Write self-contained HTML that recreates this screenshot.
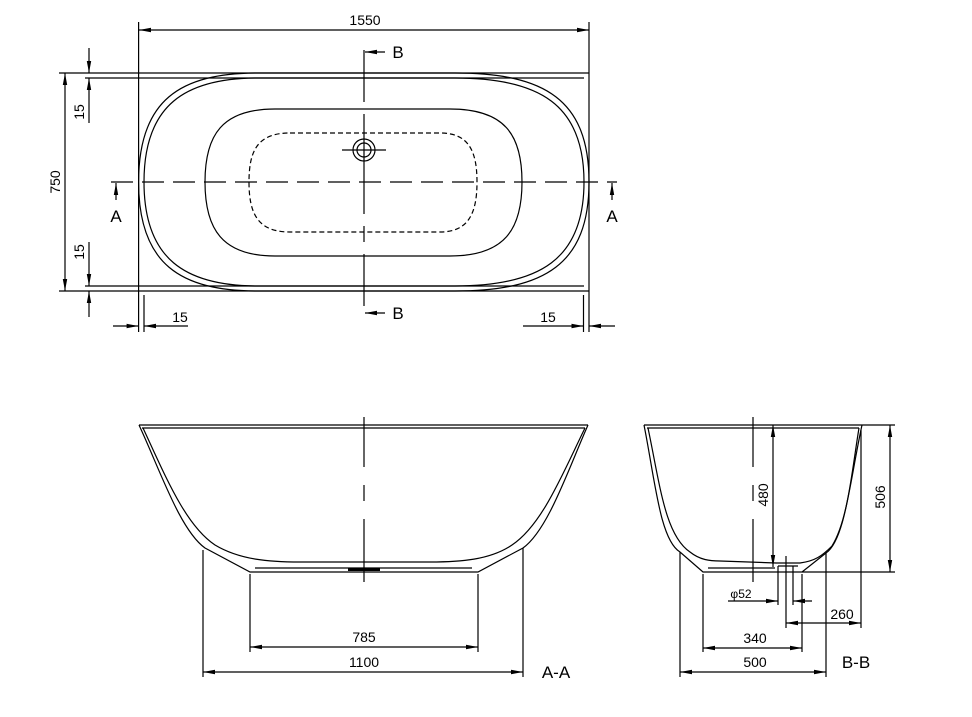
<!DOCTYPE html>
<html><head><meta charset="utf-8"><style>html,body{margin:0;padding:0;background:#fff}svg{display:block}text{font-family:"Liberation Sans",sans-serif;fill:#000}</style></head>
<body>
<svg width="972" height="717" viewBox="0 0 972 717" xmlns="http://www.w3.org/2000/svg">
<defs>
<marker id="ar" viewBox="0 0 12 6" refX="12" refY="3" markerWidth="12" markerHeight="6" orient="auto-start-reverse" markerUnits="userSpaceOnUse"><path d="M0,0.8 L12,3 L0,5.2z" fill="#000"/></marker>
</defs>
<g stroke="#000" stroke-width="1.2" fill="none">
<!-- TOP VIEW -->
<line x1="138.6" y1="22" x2="138.6" y2="332"/><line x1="144" y1="295" x2="144" y2="332"/>
<line x1="583.5" y1="295" x2="583.5" y2="332"/><line x1="589" y1="22" x2="589" y2="332"/>
<line x1="59" y1="73" x2="589" y2="73"/><line x1="85" y1="78" x2="584" y2="78"/>
<line x1="85" y1="286" x2="584" y2="286"/><line x1="59" y1="291" x2="589" y2="291"/>
<line x1="139" y1="30" x2="589" y2="30" marker-start="url(#ar)" marker-end="url(#ar)"/>
<path d="M258,73 L455,73 C545,73 589,100 589,182 C589,264 545,291 455,291 L258,291 C180,291 138.6,264 138.6,182 C138.6,100 180,73 258,73Z"/>
<path d="M258,78 L455,78 C540,78 584,105 584,182 C584,259 540,286 455,286 L258,286 C185,286 144,259 144,182 C144,105 185,78 258,78Z"/>
<path d="M275,109 L450,109 C505,109 522,135 522,182 C522,229 505,256 450,256 L275,256 C222,256 205,229 205,182 C205,135 222,109 275,109Z"/>
<path d="M290,133 L440,133 C468,133 477,150 477,182 C477,214 468,232 440,232 L290,232 C258,232 249,214 249,182 C249,150 258,133 290,133Z" stroke-dasharray="5,3"/>
<circle cx="364" cy="150" r="11"/><circle cx="364" cy="150" r="7"/>
<line x1="342" y1="150" x2="386" y2="150"/>
<line x1="364" y1="50" x2="364" y2="316" stroke-dasharray="52,12,100,12,16,12,52"/>
<line x1="111" y1="182" x2="617" y2="182" stroke-dasharray="22,9"/>
<line x1="385" y1="52" x2="365" y2="52" marker-end="url(#ar)"/>
<line x1="385" y1="313" x2="365" y2="313" marker-end="url(#ar)"/>
<line x1="116" y1="200" x2="116" y2="183" marker-end="url(#ar)"/>
<line x1="612" y1="200" x2="612" y2="183" marker-end="url(#ar)"/>
<line x1="65" y1="73" x2="65" y2="291" marker-start="url(#ar)" marker-end="url(#ar)"/>
<line x1="89" y1="48" x2="89" y2="73" marker-end="url(#ar)"/>
<line x1="89" y1="123" x2="89" y2="78" marker-end="url(#ar)"/>
<line x1="89" y1="242" x2="89" y2="286" marker-end="url(#ar)"/>
<line x1="89" y1="317" x2="89" y2="291" marker-end="url(#ar)"/>
<line x1="113" y1="326" x2="138.6" y2="326" marker-end="url(#ar)"/>
<line x1="188" y1="326" x2="144" y2="326" marker-end="url(#ar)"/>
<line x1="523" y1="326" x2="583.5" y2="326" marker-end="url(#ar)"/>
<line x1="615" y1="326" x2="589" y2="326" marker-end="url(#ar)"/>

<!-- A-A -->
<line x1="139" y1="425" x2="588" y2="425"/><line x1="142" y1="428" x2="585" y2="428"/>
<path d="M139,425 C160,470 180,530 205,548 L250,572 L478,572 L523,548 C548,530 568,470 588,425"/>
<path d="M143,428 C165,475 185,525 215,545 C240,560 270,562 300,562 L430,562 C460,562 490,560 512,545 C542,525 562,475 585,428"/>
<line x1="255" y1="568" x2="472" y2="568"/>
<rect x="348" y="568" width="32" height="3" fill="#000" stroke="none"/>
<line x1="364" y1="417" x2="364" y2="582" stroke-dasharray="50,18,16,18,70"/>
<line x1="203" y1="550" x2="203" y2="677"/><line x1="523" y1="548" x2="523" y2="677"/>
<line x1="250" y1="574" x2="250" y2="652"/><line x1="478" y1="574" x2="478" y2="652"/>
<line x1="250" y1="647" x2="478" y2="647" marker-start="url(#ar)" marker-end="url(#ar)"/>
<line x1="203" y1="672" x2="523" y2="672" marker-start="url(#ar)" marker-end="url(#ar)"/>

<!-- B-B -->
<line x1="644" y1="425" x2="862" y2="425"/><line x1="647" y1="428" x2="859" y2="428"/>
<path d="M644,425 C655,480 660,540 680,552 L703,572 L802,572 L826,553 C845,540 850,480 862,425"/>
<path d="M648,428 C660,485 665,535 690,552 C700,560 710,561 720,561 L776,563 L800,563 C815,561 822,556 832,546 C848,520 852,470 859,428"/>
<line x1="708" y1="568" x2="775" y2="568"/><line x1="778" y1="566" x2="798" y2="566"/>
<line x1="753" y1="417" x2="753" y2="582" stroke-dasharray="50,18,16,18,70"/>
<line x1="773" y1="425" x2="773" y2="567" marker-start="url(#ar)" marker-end="url(#ar)"/>
<line x1="862" y1="425" x2="895" y2="425"/><line x1="802" y1="572" x2="895" y2="572"/>
<line x1="890" y1="425" x2="890" y2="572" marker-start="url(#ar)" marker-end="url(#ar)"/>
<line x1="778" y1="566" x2="778" y2="605"/><line x1="793" y1="566" x2="793" y2="605"/>
<line x1="728" y1="601" x2="778" y2="601" marker-end="url(#ar)"/>
<line x1="812" y1="601" x2="793" y2="601" marker-end="url(#ar)"/>
<line x1="786" y1="556" x2="786" y2="628"/>
<line x1="861" y1="430" x2="861" y2="628"/>
<line x1="786" y1="623" x2="861" y2="623" marker-start="url(#ar)" marker-end="url(#ar)"/>
<line x1="703" y1="574" x2="703" y2="652"/><line x1="802" y1="574" x2="802" y2="652"/>
<line x1="703" y1="648" x2="802" y2="648" marker-start="url(#ar)" marker-end="url(#ar)"/>
<line x1="680" y1="552" x2="680" y2="677"/><line x1="826" y1="553" x2="826" y2="677"/>
<line x1="680" y1="672" x2="826" y2="672" marker-start="url(#ar)" marker-end="url(#ar)"/>
</g>
<g font-size="14" text-anchor="middle">
<text x="365" y="25">1550</text>
<text x="398" y="58" font-size="17">B</text>
<text x="398" y="319" font-size="17">B</text>
<text x="116" y="222" font-size="17">A</text>
<text x="612" y="222" font-size="17">A</text>
<text x="180" y="322">15</text>
<text x="548" y="322">15</text>
<text transform="translate(60,182) rotate(-90)">750</text>
<text transform="translate(84,112) rotate(-90)">15</text>
<text transform="translate(84,252) rotate(-90)">15</text>
<text x="364" y="642">785</text>
<text x="364" y="667">1100</text>
<text x="556" y="678" font-size="17">A-A</text>
<text transform="translate(768,495) rotate(-90)">480</text>
<text transform="translate(885,497) rotate(-90)">506</text>
<text x="741" y="598" font-size="12">φ52</text>
<text x="842" y="619">260</text>
<text x="755" y="643">340</text>
<text x="755" y="667">500</text>
<text x="856" y="668" font-size="17">B-B</text>
</g>
</svg>
</body></html>
